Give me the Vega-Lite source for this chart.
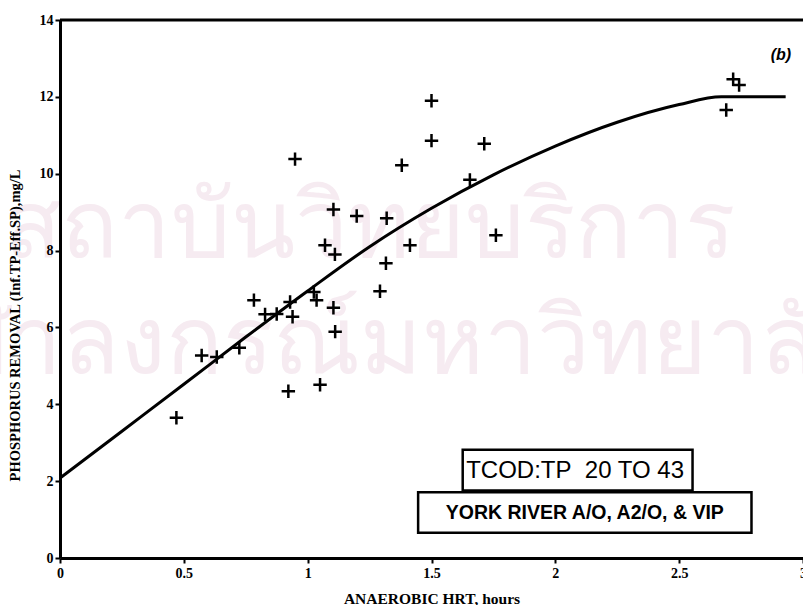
{
  "$schema": "https://vega.github.io/schema/vega-lite/v6.json",
  "autosize": {"type": "none"},
  "width": 743,
  "height": 538,
  "padding": {"left": 60, "top": 20, "right": 0, "bottom": 47},
  "background": "white",
  "config": {
    "view": {"stroke": null},
    "axis": {
      "domainColor": "black",
      "domainWidth": 3,
      "tickColor": "black",
      "tickWidth": 2,
      "tickSize": 5,
      "grid": false,
      "labelColor": "black",
      "labelFont": "Liberation Serif",
      "labelFontWeight": "bold",
      "labelFontSize": 14,
      "titleColor": "black",
      "titleFont": "Liberation Serif",
      "titleFontWeight": "bold"
    }
  },
  "encoding": {
    "x": {
      "field": "x",
      "type": "quantitative",
      "scale": {"domain": [0, 3], "nice": false, "zero": false},
      "axis": {
        "zindex": 2,
        "title": "ANAEROBIC HRT, hours",
        "titleFontSize": 15.5,
        "values": [0, 0.5, 1, 1.5, 2, 2.5, 3],
        "labelExpr": "'' + datum.value",
        "labelPadding": 3,
        "labelFlush": false,
        "titleBaseline": "middle",
        "titleY": 40
      }
    },
    "y": {
      "field": "y",
      "type": "quantitative",
      "scale": {"domain": [0, 14], "nice": false, "zero": false},
      "axis": {
        "zindex": 2,
        "title": "PHOSPHORUS REMOVAL (Inf.TP-Eff.SP),mg/L",
        "titleFontSize": 14.5,
        "values": [0, 2, 4, 6, 8, 10, 12, 14],
        "labelPadding": 2,
        "labelFlush": false,
        "titleX": -45,
        "titleY": 305,
        "titleBaseline": "middle"
      }
    }
  },
  "layer": [
    {
      "data": {"values": [
        {"x": 1.25, "y": 8.55, "label": "สถาบันวิทยบริการ"},
        {"x": 1.3, "y": 5.55, "label": "จุฬาลงกรณ์มหาวิทยาลัย"}
      ]},
      "mark": {"type": "text", "font": "Noto Sans", "fontSize": 94, "color": "#f6ebf1", "align": "center", "baseline": "middle", "zindex": 0},
      "encoding": {"text": {"field": "label"}}
    },
    {
      "data": {"values": [{"x": 0, "x2": 3, "y": 14}]},
      "mark": {"type": "rule", "color": "black", "strokeWidth": 3},
      "encoding": {"x2": {"field": "x2"}}
    },
    {
      "data": {"values": [
        {"x": 0, "y": 2.08},
        {"x": 0.25, "y": 3.3},
        {"x": 0.5, "y": 4.52},
        {"x": 0.75, "y": 5.75},
        {"x": 1.0, "y": 6.95},
        {"x": 1.25, "y": 8.1},
        {"x": 1.5, "y": 9.1},
        {"x": 1.75, "y": 9.97},
        {"x": 2.0, "y": 10.72},
        {"x": 2.25, "y": 11.34},
        {"x": 2.5, "y": 11.8},
        {"x": 2.67, "y": 12.0},
        {"x": 2.93, "y": 12.0}
      ]},
      "mark": {"type": "line", "color": "black", "strokeWidth": 3, "interpolate": "monotone"},
      "encoding": {}
    },
    {
      "data": {"values": [
        {"x": 0.47, "y": 3.65},
        {"x": 0.572, "y": 5.27},
        {"x": 0.633, "y": 5.23},
        {"x": 0.724, "y": 5.47},
        {"x": 0.783, "y": 6.71},
        {"x": 0.828, "y": 6.34},
        {"x": 0.875, "y": 6.35},
        {"x": 0.929, "y": 6.66},
        {"x": 0.939, "y": 6.28},
        {"x": 0.922, "y": 4.34},
        {"x": 0.949, "y": 10.38},
        {"x": 1.025, "y": 6.92},
        {"x": 1.036, "y": 6.71},
        {"x": 1.05, "y": 4.51},
        {"x": 1.104, "y": 6.51},
        {"x": 1.111, "y": 5.89},
        {"x": 1.104, "y": 9.07},
        {"x": 1.07, "y": 8.14},
        {"x": 1.11, "y": 7.9},
        {"x": 1.198, "y": 8.9},
        {"x": 1.292, "y": 6.94},
        {"x": 1.316, "y": 7.67},
        {"x": 1.319, "y": 8.84},
        {"x": 1.38, "y": 10.22},
        {"x": 1.413, "y": 8.14},
        {"x": 1.5, "y": 11.9},
        {"x": 1.5, "y": 10.86},
        {"x": 1.655, "y": 9.84},
        {"x": 1.713, "y": 10.78},
        {"x": 1.76, "y": 8.4},
        {"x": 2.69, "y": 11.66},
        {"x": 2.718, "y": 12.46},
        {"x": 2.742, "y": 12.31}
      ]},
      "mark": {"type": "point", "shape": "M-1,0H1M0,-1V1", "filled": false, "color": "black", "strokeWidth": 2.5, "size": 180, "opacity": 1}
    },
    {
      "data": {"values": [
        {"x": 1.626, "x2": 2.554, "y": 1.755, "y2": 2.82},
        {"x": 1.446, "x2": 2.792, "y": 0.66, "y2": 1.71}
      ]},
      "mark": {"type": "rect", "fill": "white", "stroke": "black", "strokeWidth": 2.5},
      "encoding": {"x2": {"field": "x2"}, "y2": {"field": "y2"}}
    },
    {
      "data": {"values": [{"x": 1.64, "y": 2.29, "label": "TCOD:TP\u00a0 20 TO 43"}]},
      "mark": {"type": "text", "font": "Liberation Sans", "fontSize": 24, "color": "black", "align": "left", "baseline": "middle", "dy": 1},
      "encoding": {"text": {"field": "label"}}
    },
    {
      "data": {"values": [{"x": 2.119, "y": 1.185, "label": "YORK RIVER A/O, A2/O, & VIP"}]},
      "mark": {"type": "text", "font": "Liberation Sans", "fontSize": 19.5, "fontWeight": "bold", "color": "black", "align": "center", "baseline": "middle", "dy": 1},
      "encoding": {"text": {"field": "label"}}
    },
    {
      "data": {"values": [{"x": 2.911, "y": 13.09, "label": "(b)"}]},
      "mark": {"type": "text", "font": "Liberation Sans", "fontSize": 16, "fontWeight": "bold", "fontStyle": "italic", "color": "black", "align": "center", "baseline": "middle"},
      "encoding": {"text": {"field": "label"}}
    }
  ]
}
